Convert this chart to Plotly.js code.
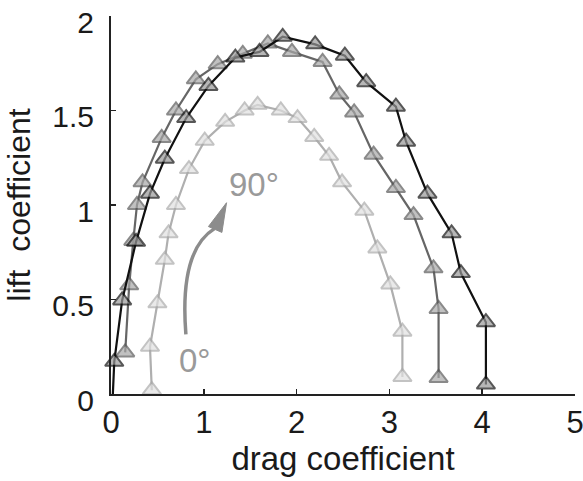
<!DOCTYPE html>
<html>
<head>
<meta charset="utf-8">
<script src="https://cdn.plot.ly/plotly-3.0.1.min.js"></script>
<style>html,body{margin:0;padding:0;background:#fff;}#chart{width:583px;height:481px;}</style>
</head>
<body>
<div id="chart"></div>
<script>
// Series: drag coefficient (x) and lift coefficient (y)
const darkX  = [0.02, 0.035, 0.12, 0.27, 0.42, 0.58, 0.81, 1.05, 1.34, 1.60, 1.85, 2.20, 2.52, 2.75, 3.07, 3.18, 3.41, 3.67, 3.77, 4.04, 4.04];
const darkY  = [0.00, 0.17, 0.495, 0.805, 1.06, 1.245, 1.46, 1.63, 1.78, 1.81, 1.89, 1.85, 1.79, 1.65, 1.52, 1.335, 1.06, 0.85, 0.64, 0.38, 0.05];

const midX   = [0.153, 0.196, 0.24, 0.28, 0.34, 0.546, 0.70, 0.914, 1.15, 1.42, 1.69, 1.95, 2.28, 2.46, 2.62, 2.83, 3.07, 3.26, 3.475, 3.53, 3.53];
const midY   = [0.22, 0.575, 0.81, 1.00, 1.12, 1.355, 1.50, 1.665, 1.745, 1.80, 1.855, 1.81, 1.757, 1.585, 1.49, 1.266, 1.09, 0.947, 0.665, 0.45, 0.085];

const lightX = [0.44, 0.42, 0.50, 0.58, 0.62, 0.70, 0.84, 1.01, 1.23, 1.44, 1.58, 1.83, 2.01, 2.19, 2.35, 2.49, 2.73, 2.87, 3.01, 3.14, 3.14];
const lightY = [0.02, 0.25, 0.48, 0.71, 0.85, 1.00, 1.19, 1.34, 1.44, 1.50, 1.53, 1.50, 1.46, 1.36, 1.26, 1.12, 0.97, 0.77, 0.58, 0.33, 0.09];

const xTicks = [0, 1, 2, 3, 4, 5];
const yTicks = [0, 0.5, 1, 1.5, 2];
const yTickText = ['0', '0.5', '1', '1.5', '2'];

const FONT = 'Liberation Sans, Arial, sans-serif';
const MS = 16;

function mk(x, y, lineColor, fill, edge, hideFirst) {
  const sizes = x.map((_, i) => (hideFirst && i === 0) ? 0 : MS);
  return {
    x: x, y: y, type: 'scatter', mode: 'lines+markers',
    line: {color: lineColor, width: 2.2},
    marker: {symbol: 'triangle-up', size: sizes, color: fill, line: {color: edge, width: 2}},
    cliponaxis: false,
    hoverinfo: 'skip', showlegend: false
  };
}

const data = [
  mk(lightX, lightY, '#afafaf', '#e0e0e0', '#aaaaaa', false),
  mk(midX, midY, '#666666', '#a8a8a8', '#595959', false),
  mk(darkX, darkY, '#111111', '#9a9a9a', '#111111', true)
];

// curved arrow from 0° to 90° (annotation geometry)
const arrow = {
  p0: [0.807, 0.315], c: [0.735, 0.76], p2: [1.115, 0.875],
  tip: [1.245, 1.012], b1: [1.050, 0.886], b2: [1.195, 0.855]
};

const layout = {
  width: 583, height: 481,
  margin: {l: 111, r: 8, t: 16, b: 87},
  paper_bgcolor: '#ffffff', plot_bgcolor: '#ffffff',
  font: {family: FONT, color: '#1a1a1a', size: 30},
  xaxis: {
    range: [0, 5], tickvals: xTicks, ticktext: xTicks.map(String),
    ticks: 'inside', ticklen: 5, tickwidth: 1.5, tickcolor: '#222',
    showline: true, linecolor: '#222', linewidth: 2, mirror: false,
    showgrid: false, zeroline: false, ticklabeloverflow: 'allow',
    ticklabelstandoff: 0,
    tickfont: {size: 31, family: FONT, color: '#1a1a1a'},
    title: {text: 'drag coefficient', font: {size: 33, family: FONT, color: '#1a1a1a'}, standoff: 4}
  },
  yaxis: {
    range: [0, 2], tickvals: yTicks, ticktext: yTickText,
    ticks: 'inside', ticklen: 5, tickwidth: 1.5, tickcolor: '#222',
    showline: true, linecolor: '#222', linewidth: 2, mirror: false,
    showgrid: false, zeroline: false, ticklabeloverflow: 'allow',
    ticklabelstandoff: 9, ticklabelshift: 6,
    tickfont: {size: 30, family: FONT, color: '#1a1a1a'},
    title: {text: 'lift  coefficient', font: {size: 32, family: FONT, color: '#1a1a1a'}, standoff: 12}
  },
  shapes: [
    {type: 'path', xref: 'x', yref: 'y',
     path: `M${arrow.p0[0]},${arrow.p0[1]} Q${arrow.c[0]},${arrow.c[1]} ${arrow.p2[0]},${arrow.p2[1]}`,
     line: {color: '#8c8c8c', width: 3.5}},
    {type: 'path', xref: 'x', yref: 'y',
     path: `M${arrow.tip[0]},${arrow.tip[1]} L${arrow.b1[0]},${arrow.b1[1]} L${arrow.b2[0]},${arrow.b2[1]} Z`,
     fillcolor: '#8c8c8c', line: {color: '#8c8c8c', width: 1}}
  ],
  annotations: [
    {x: 1.25, y: 1.11, xref: 'x', yref: 'y', text: '90°', showarrow: false,
     xanchor: 'left', yanchor: 'middle', font: {size: 33, family: FONT, color: '#9a9a9a'}},
    {x: 0.71, y: 0.175, xref: 'x', yref: 'y', text: '0°', showarrow: false,
     xanchor: 'left', yanchor: 'middle', font: {size: 33, family: FONT, color: '#9a9a9a'}}
  ]
};

Plotly.newPlot('chart', data, layout, {staticPlot: true, displayModeBar: false});
</script>
</body>
</html>
